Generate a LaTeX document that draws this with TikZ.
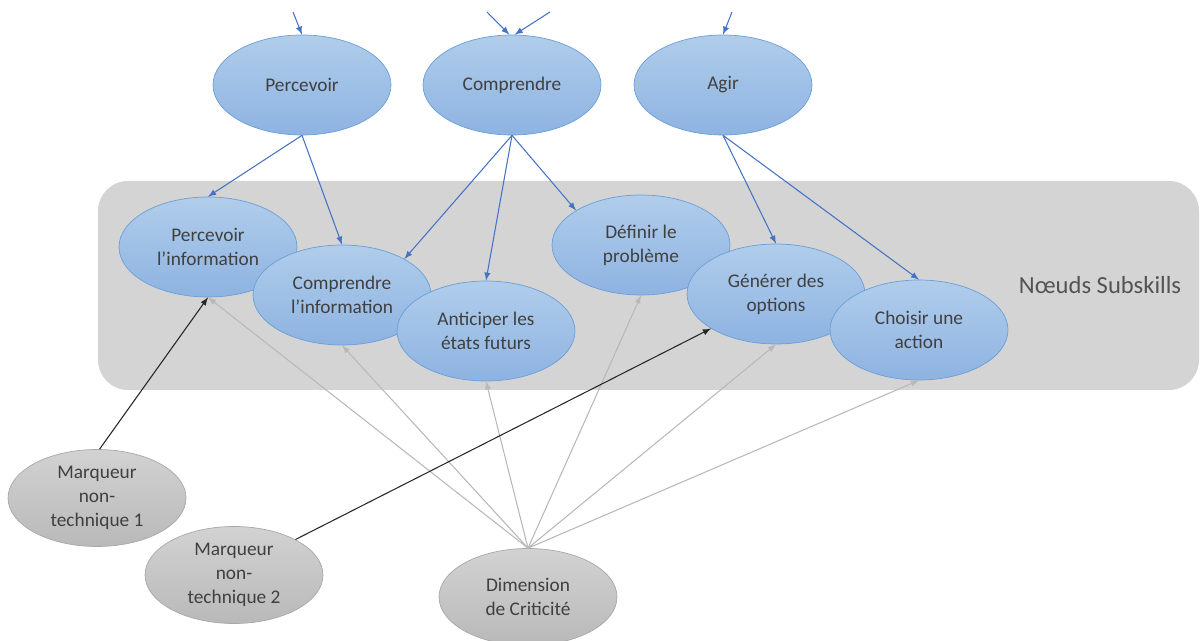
\documentclass[tikz,border=0pt]{standalone}
\usepackage{fontspec}
\setmainfont{Carlito}
\usetikzlibrary{shapes.geometric}
\definecolor{blueA}{HTML}{B0CDEB}
\definecolor{blueB}{HTML}{8EB3E1}
\definecolor{blueBd}{HTML}{6A9FD8}
\definecolor{linkblue}{HTML}{4472C4}
\definecolor{grayA}{HTML}{D2D2D2}
\definecolor{grayB}{HTML}{B9B9B9}
\definecolor{grayBd}{HTML}{A8A8A8}
\definecolor{linkgray}{HTML}{B8B8B8}
\definecolor{panelgray}{HTML}{D4D4D4}
\definecolor{txtgray}{HTML}{404040}
\begin{document}
\begin{tikzpicture}[>=latex, x=0.02cm, y=-0.02cm,
  skill/.style={ellipse, draw=blueBd, top color=blueA, bottom color=blueB,
    minimum width=3.56cm, minimum height=2cm, inner sep=0pt, align=center,
    text=txtgray, font=\fontsize{11}{13.5}\selectfont},
  marker/.style={skill, draw=grayBd, top color=grayA, bottom color=grayB, minimum height=1.94cm},
  bluelink/.style={->, draw=linkblue, line width=0.6pt},
  graylink/.style={->, draw=linkgray, line width=0.6pt},
  blacklink/.style={->, draw=black!85, line width=0.6pt}]
\useasboundingbox (0,0) rectangle (1200,641);
\fill[panelgray, rounded corners=0.6cm] (98,181) rectangle (1199,390);
\node[text=txtgray!90, font=\fontsize{14}{16}\selectfont] (lbl) at (1100,285) {Nœuds Subskills};

% top layer
\node[skill] (perc) at (302,85) {Percevoir};
\node[skill] (comp) at (512,85) {Comprendre};
\node[skill] (agir) at (723,85) {Agir};

% subskills
\node[skill] (pinfo) at (208,247) {Percevoir\\l’information};
\node[skill] (cinfo) at (342,295) {Comprendre\\l’information};
\node[skill] (anti) at (486,331) {Anticiper les\\états futurs};
\node[skill] (defi) at (641,245) {Définir le\\problème};
\node[skill] (gene) at (776,294) {Générer des\\options};
\node[skill] (chois) at (919,330) {Choisir une\\action};

% markers
\node[marker] (mk1) at (97,498) {Marqueur\\non-\\technique 1};
\node[marker] (mk2) at (234,575) {Marqueur\\non-\\technique 2};
\node[marker] (dim) at (528,597) {Dimension\\de Criticité};

% incoming from above
\coordinate (in1) at (293,12);
\coordinate (in2) at (487,12);
\coordinate (in3) at (550,12);
\coordinate (in4) at (732,12);
\draw[bluelink] (in1)--(perc.north);
\draw[bluelink] (in2)--(comp.93);
\draw[bluelink] (in3)--(comp.87);
\draw[bluelink] (in4)--(agir.north);

\draw[bluelink] (perc.south)--(pinfo.north);
\draw[bluelink] (perc.south)--(cinfo.north);
\draw[bluelink] (comp.south)--(cinfo.30);
\draw[bluelink] (comp.south)--(anti.north);
\draw[bluelink] (comp.south)--(defi.152);
\draw[bluelink] (agir.south)--(gene.north);
\draw[bluelink] (agir.south)--(chois.north);

\foreach \n in {pinfo,cinfo,anti,defi,gene,chois}
  \draw[graylink] (dim.north)--(\n.south);

\draw[blacklink] (mk1.87)--(pinfo.south);
\draw[blacklink] (mk2.30)--(gene.208);
\end{tikzpicture}
\end{document}
